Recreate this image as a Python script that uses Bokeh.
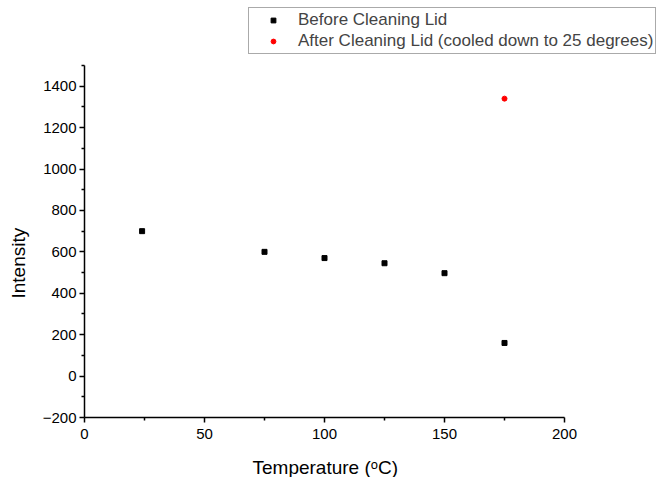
import math
from bokeh.plotting import figure
from bokeh.models import FixedTicker, Range1d, Legend, LegendItem, Label
from bokeh.embed import file_html
from bokeh.resources import INLINE

# Data
before_temp = [24, 75, 100, 125, 150, 175]
before_int = [700, 600, 570, 545, 497, 160]
after_temp = [175]
after_int = [1340]

x_ticks = [0, 50, 100, 150, 200]
x_minor = [25, 75, 125, 175]
y_ticks = [-200, 0, 200, 400, 600, 800, 1000, 1200, 1400]
y_minor = [-100, 100, 300, 500, 700, 900, 1100, 1300, 1500]
x_bounds = (0, 200)
y_bounds = (-200, 1500)

FONT = "Liberation Sans"

# The frame covers the whole canvas; the axes are pinned at x=0 / y=-200 and
# limited to their bounds, so legend and labels are never clipped.
p = figure(width=657, height=477, output_backend="svg", toolbar_location=None,
           x_range=Range1d(-35, 238.75), y_range=Range1d(-489.77, 1813.92),
           min_border_left=0, min_border_right=0, min_border_top=0,
           min_border_bottom=0)
p.outline_line_color = None
p.xgrid.visible = False
p.ygrid.visible = False
p.background_fill_color = "white"
p.border_fill_color = "white"

r1 = p.scatter(before_temp, before_int, marker="square", size=5, color="black")
r2 = p.scatter(after_temp, after_int, marker="circle", size=5, color="red")

for ax, ticks, minor, bnds, loc in ((p.xaxis[0], x_ticks, x_minor, x_bounds, y_bounds[0]),
                                    (p.yaxis[0], y_ticks, y_minor, y_bounds, x_bounds[0])):
    ax.ticker = FixedTicker(ticks=ticks, minor_ticks=minor)
    ax.bounds = bnds
    ax.fixed_location = loc
    ax.axis_line_width = 1.5
    ax.axis_line_color = "black"
    ax.major_tick_line_width = 1.5
    ax.minor_tick_line_width = 1.5
    ax.major_tick_in = 0
    ax.major_tick_out = 5
    ax.minor_tick_in = 0
    ax.minor_tick_out = 3
    ax.major_label_text_font = FONT
    ax.major_label_text_font_size = "15px"
    ax.major_label_text_color = "black"

p.xaxis.major_label_standoff = 6
p.yaxis.major_label_standoff = 3

xlab = Label(x=252, y=10, x_units="screen", y_units="screen",
             text="Temperature (ᵒC)", text_align="left", text_baseline="alphabetic",
             text_font=FONT, text_font_size="19px", text_color="black")
ylab = Label(x=17.5, y=179, x_units="screen", y_units="screen", angle=math.pi / 2,
             text="Intensity", text_align="left", text_baseline="alphabetic",
             text_font=FONT, text_font_size="19px", text_color="black")
p.add_layout(xlab)
p.add_layout(ylab)

lg = Legend(items=[
    LegendItem(label="Before Cleaning Lid", renderers=[r1]),
    LegendItem(label="After Cleaning Lid (cooled down to 25 degrees)", renderers=[r2]),
])
lg.location = (248, 423)
lg.padding = 2
lg.spacing = 1
lg.margin = 0
lg.glyph_width = 44
lg.glyph_height = 12
lg.label_height = 20
lg.label_standoff = 3
lg.label_text_font = FONT
lg.label_text_font_size = "17px"
lg.border_line_color = "#555555"
lg.border_line_width = 1
lg.background_fill_alpha = 1.0
p.add_layout(lg, "center")

open("out.html", "w").write(file_html(p, INLINE))
